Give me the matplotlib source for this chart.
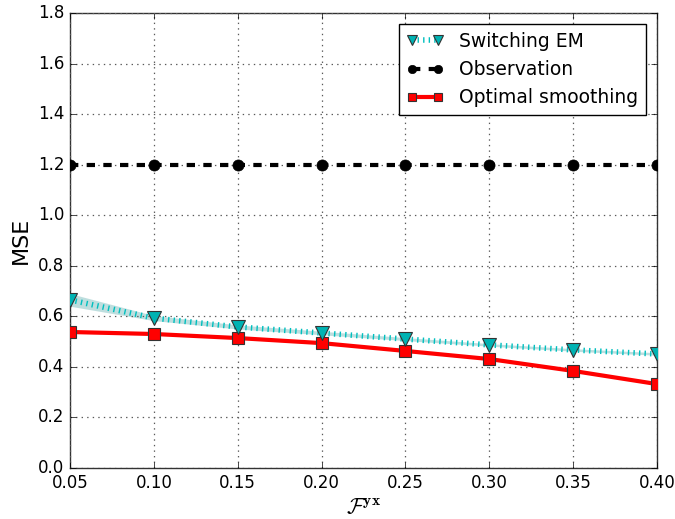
import matplotlib
matplotlib.use("Agg")
import matplotlib.pyplot as plt
import numpy as np

plt.style.use('classic')
plt.rcParams['mathtext.fontset'] = 'cm'

x = [0.05, 0.10, 0.15, 0.20, 0.25, 0.30, 0.35, 0.40]
switching_em = [0.665, 0.593, 0.558, 0.534, 0.510, 0.487, 0.467, 0.451]
switching_lo = [0.640, 0.583, 0.550, 0.527, 0.504, 0.482, 0.462, 0.446]
switching_hi = [0.690, 0.603, 0.566, 0.541, 0.516, 0.492, 0.472, 0.456]
observation = [1.2, 1.2, 1.2, 1.2, 1.2, 1.2, 1.2, 1.2]
optimal = [0.538, 0.530, 0.514, 0.494, 0.463, 0.431, 0.384, 0.332]
optimal_lo = [0.533, 0.526, 0.510, 0.490, 0.459, 0.427, 0.380, 0.328]
optimal_hi = [0.543, 0.534, 0.518, 0.498, 0.467, 0.435, 0.388, 0.336]

fig = plt.figure(figsize=(6.75, 5.19), dpi=100, facecolor='white')
ax = fig.add_axes([0.1037, 0.0983, 0.8696, 0.8767])
ax.set_facecolor('white')

ax.fill_between(x, switching_lo, switching_hi, color='#7fbfbf', alpha=0.5, lw=0)
ax.fill_between(x, optimal_lo, optimal_hi, color='#ff9999', alpha=0.4, lw=0)

ax.plot(x, switching_em, color='#00bfbf', linestyle=':', linewidth=4,
        marker='v', markersize=10, markerfacecolor='#00b3b3',
        markeredgecolor='#333333', markeredgewidth=0.8, label='Switching EM', zorder=4)
ax.plot(x, observation, color='black', linestyle='--', linewidth=3,
        marker='o', markersize=8, markerfacecolor='black', label='Observation', zorder=3)
ax.plot(x, optimal, color='red', linestyle='-', linewidth=3,
        marker='s', markersize=8, markerfacecolor='red',
        markeredgecolor='#333333', markeredgewidth=0.8, label='Optimal smoothing', zorder=3)

ax.set_xlim(0.05, 0.40)
ax.set_ylim(0.0, 1.8)
ax.set_xticks(np.arange(0.05, 0.401, 0.05))
ax.set_xticklabels(['%.2f' % v for v in np.arange(0.05, 0.401, 0.05)])
ax.set_yticks(np.arange(0, 1.81, 0.2))
ax.set_yticklabels(['%.1f' % v for v in np.arange(0, 1.81, 0.2)])
ax.tick_params(labelsize=12)
ax.grid(True, color='0.35', linestyle=':', linewidth=0.9)
for s in ax.spines.values():
    s.set_edgecolor('0.2')

ax.set_ylabel('MSE', fontsize=16)
ax.set_xlabel(r'$\mathcal{F}^{\mathbf{yx}}$', fontsize=16)

leg = ax.legend(loc='upper right', fontsize=13.5, numpoints=2, handlelength=2.0,
                markerscale=0.75, fancybox=False, framealpha=1, borderaxespad=0.6)

fig.savefig('out.png', dpi=100, facecolor='white')
